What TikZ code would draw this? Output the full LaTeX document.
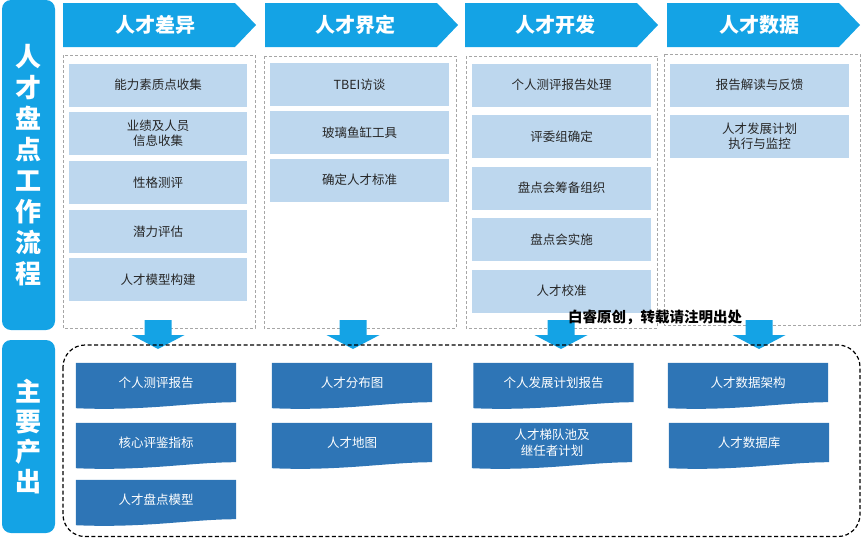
\documentclass[tikz,border=0pt]{standalone}
\usepackage{fontspec}
\setmainfont{Noto Sans CJK SC}
\usepackage{tikz}
\usetikzlibrary{backgrounds}
\definecolor{headblue}{HTML}{14A3E5}
\definecolor{itemblue}{HTML}{BDD7EE}
\definecolor{outblue}{HTML}{2E75B6}
\definecolor{boxgray}{HTML}{A6A6A6}
\def\headarrow#1{(#1,3) -- ++(172,0) -- ++(21,22) -- ++(-21,22) -- ++(-172,0) -- cycle}
\def\droparrow#1{(#1-13.5,320) -- (#1+13.5,320) -- (#1+13.5,335) -- (#1+26.5,335) -- (#1,349) -- (#1-26.5,335) -- (#1-13.5,335) -- cycle}
\newcommand\outshape[1]{\fill[outblue] (#1.north west) -- (#1.north east) -- (#1.south east)
  .. controls +(-45,0) and +(70,3) .. ([yshift=-6pt]#1.south west) -- cycle;}
\tikzset{
  sidebar/.style={fill=headblue, rounded corners=9pt, minimum width=53pt, inner sep=0pt,
    text=white, align=center, font=\fontsize{26}{31}\selectfont\bfseries},
  headtext/.style={text=white, font=\fontsize{20}{24}\selectfont\bfseries},
  stepbox/.style={draw=boxgray, dash pattern=on 3pt off 2pt, line width=0.8pt},
  itembox/.style={fill=itemblue, minimum width=178pt, minimum height=43pt, inner sep=0pt,
    align=center, text=black!85, font=\fontsize{12.5}{15.5}\selectfont},
  outbox/.style={minimum width=160pt, minimum height=39pt, inner sep=0pt,
    align=center, text=white, font=\fontsize{12.5}{15.5}\selectfont}
}

\begin{document}
\begin{tikzpicture}[x=1pt,y=-1pt]
\useasboundingbox (0,0) rectangle (864,539);
% left side bars
\node[sidebar, minimum height=330pt] (flow) at (28.5,165) {人\\才\\盘\\点\\工\\作\\流\\程};
\node[sidebar, minimum height=193pt, font=\fontsize{26}{30}\selectfont\bfseries] (output) at (28.5,436.5) {主\\要\\产\\出};
% stage headers
\fill[headblue] \headarrow{63};
\fill[headblue] \headarrow{265};
\fill[headblue] \headarrow{465};
\fill[headblue] \headarrow{667};
\node[headtext] (h1) at (155,25) {人才差异};
\node[headtext] (h2) at (355,25) {人才界定};
\node[headtext] (h3) at (555,25) {人才开发};
\node[headtext] (h4) at (759,25) {人才数据};
% dashed stage boxes
\draw[stepbox] (63,55) rectangle (255,328);
\draw[stepbox] (264,56) rectangle (456,328);
\draw[stepbox] (466,56) rectangle (657,328);
\draw[stepbox] (664,54) rectangle (860,325);
% stage 1
\node[itembox] (a1) at (158,85) {能力素质点收集};
\node[itembox] (a2) at (158,133.5) {业绩及人员\\信息收集};
\node[itembox] (a3) at (158,182.5) {性格测评};
\node[itembox] (a4) at (158,231.5) {潜力评估};
\node[itembox] (a5) at (158,279.5) {人才模型构建};
% stage 2
\node[itembox, minimum width=179pt] (b1) at (359.5,84.5) {TBEI访谈};
\node[itembox, minimum width=179pt] (b2) at (359.5,132.5) {玻璃鱼缸工具};
\node[itembox, minimum width=179pt] (b3) at (359.5,180) {确定人才标准};
% stage 3
\node[itembox, minimum width=179pt] (c1) at (561.5,85) {个人测评报告处理};
\node[itembox, minimum width=179pt] (c2) at (561.5,136.5) {评委组确定};
\node[itembox, minimum width=179pt] (c3) at (561.5,188) {盘点会筹备组织};
\node[itembox, minimum width=179pt] (c4) at (561.5,239.5) {盘点会实施};
\node[itembox, minimum width=179pt] (c5) at (561.5,291) {人才校准};
% stage 4
\node[itembox, minimum width=179pt] (d1) at (759.5,85) {报告解读与反馈};
\node[itembox, minimum width=179pt] (d2) at (759.5,136) {人才发展计划\\执行与监控};
% arrows down
\fill[headblue] \droparrow{158};
\fill[headblue] \droparrow{353};
\fill[headblue] \droparrow{561};
\fill[headblue] \droparrow{759};
% outputs
\draw[dash pattern=on 4pt off 2.5pt, line width=1.2pt, rounded corners=22pt] (63,345) rectangle (860,536.5);
\node[outbox] (o1) at (156,382.5) {个人测评报告};
\node[outbox] (o2) at (156,442.5) {核心评鉴指标};
\node[outbox] (o3) at (156,499.5) {人才盘点模型};
\node[outbox] (o4) at (352,382.5) {人才分布图};
\node[outbox] (o5) at (352,442.5) {人才地图};
\node[outbox] (o6) at (553.5,382.5) {个人发展计划报告};
\node[outbox] (o7) at (552,442.5) {人才梯队池及\\继任者计划};
\node[outbox] (o8) at (748,382.5) {人才数据架构};
\node[outbox] (o9) at (749,442.5) {人才数据库};
\begin{scope}[on background layer]
  \outshape{o1} \outshape{o2} \outshape{o3}
  \outshape{o4} \outshape{o5}
  \outshape{o6} \outshape{o7}
  \outshape{o8} \outshape{o9}
\end{scope}
\node[font=\fontsize{14.5}{16}\selectfont\bfseries] (mark) at (655,317) {白睿原创，转载请注明出处};
\end{tikzpicture}
\end{document}
